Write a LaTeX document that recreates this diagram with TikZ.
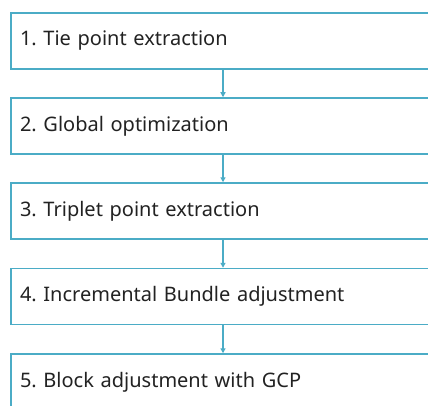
\documentclass[tikz,border=0pt]{standalone}
\usepackage{fontspec}
\setmainfont{Noto Sans}
\usetikzlibrary{arrows.meta}
\definecolor{stepline}{HTML}{4BACC6}
\definecolor{steptext}{HTML}{222222}
\frenchspacing
\begin{document}
\begin{tikzpicture}[x=1pt,y=1pt,
  stepbox/.style={draw=stepline, line width=1.5pt, rectangle,
    minimum width=424pt, minimum height=56pt, text width=406pt,
    inner xsep=9pt, align=left, text=steptext,
    font=\fontsize{20}{24}\selectfont},
  flow/.style={draw=stepline, line width=1.2pt,
    -{Triangle[length=5pt,width=5pt]}}]
\useasboundingbox (0,0) rectangle (428,405);
\clip (0,0) rectangle (428,405);
\fill[white] (0,0) rectangle (428,405);
\node[stepbox] (s1) at (223,364) {1. Tie point extraction};
\node[stepbox] (s2) at (223,279) {2. Global optimization};
\node[stepbox] (s3) at (223,194) {3. Triplet point extraction};
\node[stepbox] (s4) at (223,108.5) {4. Incremental Bundle adjustment};
\node[stepbox] (s5) at (223,23) {5. Block adjustment with GCP};
\draw[flow] (s1.south) -- (s2.north);
\draw[flow] (s2.south) -- (s3.north);
\draw[flow] (s3.south) -- (s4.north);
\draw[flow] (s4.south) -- (s5.north);
\end{tikzpicture}
\end{document}
